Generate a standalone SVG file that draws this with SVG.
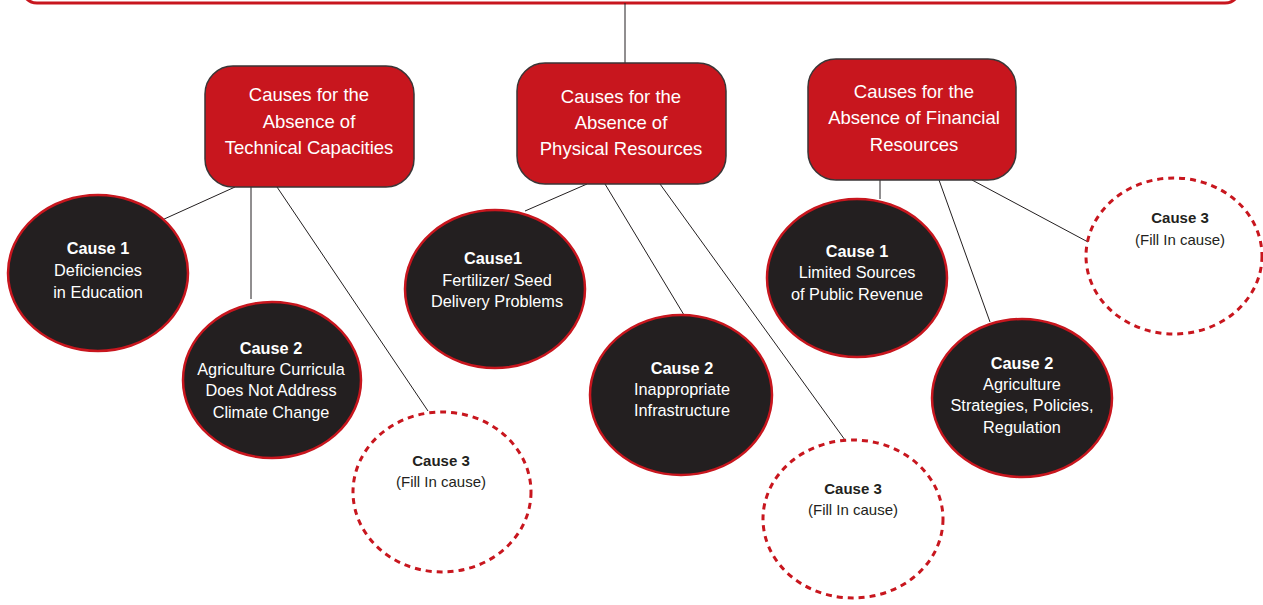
<svg xmlns="http://www.w3.org/2000/svg" width="1263" height="605" viewBox="0 0 1263 605">
<style>
.box{fill:#c8161e;stroke:#3a3536;stroke-width:1.5}
.bt{fill:#ffffff;font-family:"Liberation Sans",Arial,sans-serif;font-size:18.5px;text-anchor:middle}
.blk{fill:#231f20;stroke:#c8161e;stroke-width:2.5}
.dsh{fill:none;stroke:#c8161e;stroke-width:3;stroke-dasharray:6 5}
.ct{fill:#ffffff;font-family:"Liberation Sans",Arial,sans-serif;font-size:16.3px;text-anchor:middle}
.dt{fill:#231f20;font-family:"Liberation Sans",Arial,sans-serif;font-size:15px;text-anchor:middle}
.b{font-weight:bold}
.ln{stroke:#231f20;stroke-width:1;fill:none}
</style>
<rect width="1263" height="605" fill="#ffffff"/>
<g id="top-banner"><rect x="22" y="-60" width="1218" height="63" rx="15" fill="#ffffff" stroke="#c8161e" stroke-width="3"/></g>
<g id="connectors">
<line class="ln" x1="625" y1="3" x2="625" y2="63"/>
<line class="ln" x1="235" y1="187" x2="162" y2="220"/>
<line class="ln" x1="251" y1="187" x2="251" y2="299"/>
<line class="ln" x1="277" y1="187" x2="428" y2="411"/>
<line class="ln" x1="587" y1="184" x2="525" y2="211"/>
<line class="ln" x1="605" y1="184" x2="684" y2="315"/>
<line class="ln" x1="660" y1="184" x2="845" y2="440"/>
<line class="ln" x1="880" y1="180" x2="880" y2="199"/>
<line class="ln" x1="939" y1="180" x2="990" y2="322"/>
<line class="ln" x1="972" y1="180" x2="1088" y2="242"/>
</g>
<g id="box-technical">
<rect class="box" x="205" y="66" width="209" height="121" rx="28"/>
<text class="bt" x="309" y="101">Causes for the</text>
<text class="bt" x="309" y="128">Absence of</text>
<text class="bt" x="309" y="154">Technical Capacities</text>
</g>
<g id="box-physical">
<rect class="box" x="517" y="63" width="209" height="121" rx="28"/>
<text class="bt" x="621" y="103">Causes for the</text>
<text class="bt" x="621" y="129">Absence of</text>
<text class="bt" x="621" y="155">Physical Resources</text>
</g>
<g id="box-financial">
<rect class="box" x="808" y="59" width="208" height="121" rx="28"/>
<text class="bt" x="914" y="98">Causes for the</text>
<text class="bt" x="914" y="124">Absence of Financial</text>
<text class="bt" x="914" y="151">Resources</text>
</g>
<g id="tech-cause1">
<ellipse class="blk" cx="98" cy="273" rx="90" ry="78"/>
<text class="ct b" x="98" y="254">Cause 1</text>
<text class="ct" x="98" y="276">Deficiencies</text>
<text class="ct" x="98" y="298">in Education</text>
</g>
<g id="tech-cause2">
<ellipse class="blk" cx="272" cy="380" rx="89" ry="78"/>
<text class="ct b" x="271" y="354">Cause 2</text>
<text class="ct" x="271" y="375">Agriculture Curricula</text>
<text class="ct" x="271" y="396">Does Not Address</text>
<text class="ct" x="271" y="418">Climate Change</text>
</g>
<g id="tech-cause3">
<ellipse class="dsh" cx="442" cy="492" rx="89" ry="80"/>
<text class="dt b" x="441" y="466">Cause 3</text>
<text class="dt" x="441" y="487">(Fill In cause)</text>
</g>
<g id="phys-cause1">
<ellipse class="blk" cx="495" cy="289" rx="90" ry="79"/>
<text class="ct b" x="493" y="264">Cause1</text>
<text class="ct" x="497" y="286">Fertilizer/ Seed</text>
<text class="ct" x="497" y="307">Delivery Problems</text>
</g>
<g id="phys-cause2">
<ellipse class="blk" cx="681" cy="395" rx="91" ry="80"/>
<text class="ct b" x="682" y="374">Cause 2</text>
<text class="ct" x="682" y="395">Inappropriate</text>
<text class="ct" x="682" y="416">Infrastructure</text>
</g>
<g id="phys-cause3">
<ellipse class="dsh" cx="853" cy="519" rx="90" ry="79"/>
<text class="dt b" x="853" y="494">Cause 3</text>
<text class="dt" x="853" y="515">(Fill In cause)</text>
</g>
<g id="fin-cause1">
<ellipse class="blk" cx="857" cy="278" rx="90" ry="79"/>
<text class="ct b" x="857" y="257">Cause 1</text>
<text class="ct" x="857" y="278">Limited Sources</text>
<text class="ct" x="857" y="300">of Public Revenue</text>
</g>
<g id="fin-cause2">
<ellipse class="blk" cx="1022" cy="398" rx="90" ry="79"/>
<text class="ct b" x="1022" y="369">Cause 2</text>
<text class="ct" x="1022" y="390">Agriculture</text>
<text class="ct" x="1022" y="411">Strategies, Policies,</text>
<text class="ct" x="1022" y="433">Regulation</text>
</g>
<g id="fin-cause3">
<ellipse class="dsh" cx="1174" cy="256" rx="88" ry="78"/>
<text class="dt b" x="1180" y="223">Cause 3</text>
<text class="dt" x="1180" y="245">(Fill In cause)</text>
</g>
</svg>
